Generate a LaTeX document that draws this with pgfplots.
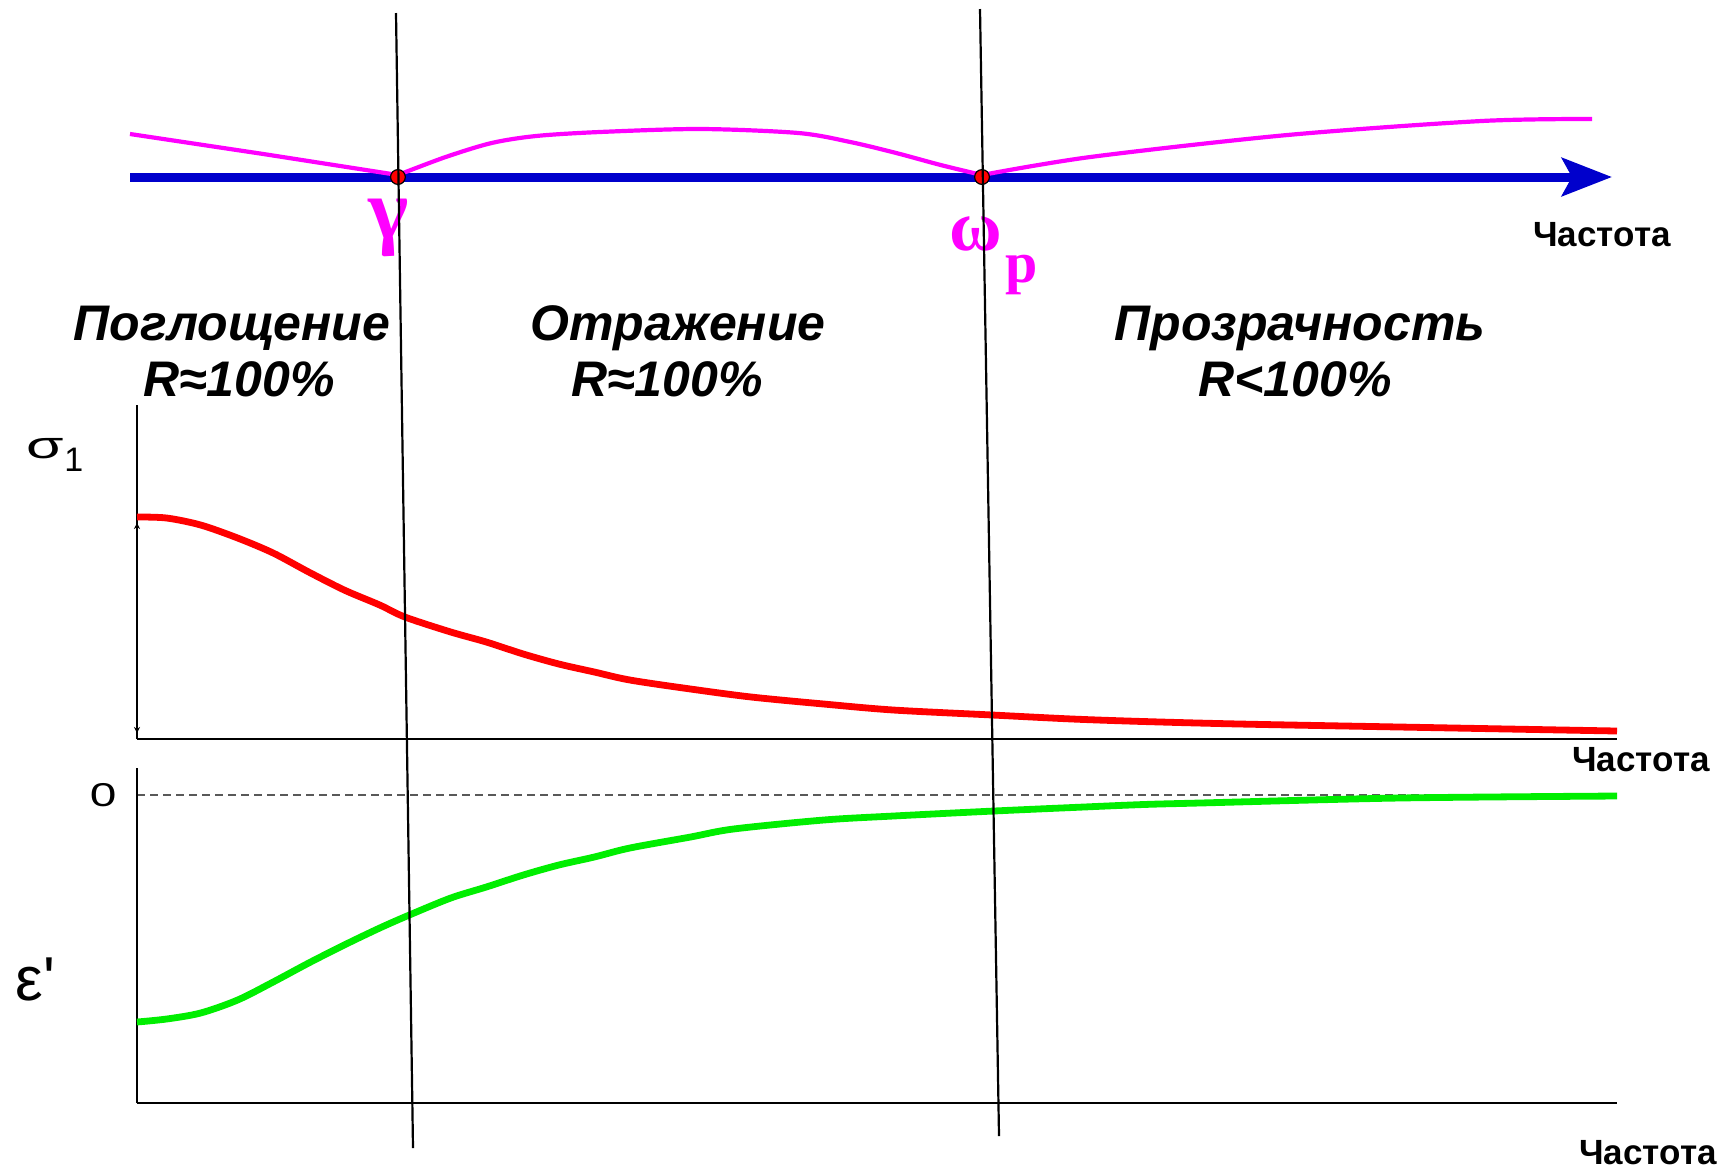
\documentclass[border=0pt]{standalone}
\usepackage{fontspec}
\usepackage{graphicx}
\usepackage{pgfplots}
\pgfplotsset{compat=1.18}
\usetikzlibrary{arrows.meta}
\setmainfont{Liberation Sans}
\newfontfamily\greekserif{Liberation Serif}
% plain family without TeX ligature mapping, so ' stays a straight quote
\newfontfamily\rawsans{Liberation Sans}

\definecolor{axisblue}{RGB}{0,0,204}
\definecolor{curvemagenta}{RGB}{255,0,255}
\definecolor{sigmared}{RGB}{255,0,0}
\definecolor{epsgreen}{RGB}{0,238,0}
\newcommand{\fs}[1]{\fontsize{#1}{#1}\selectfont}

\begin{document}
\begin{tikzpicture}

% ---------- frequency axis with the characteristic points ----------
\begin{axis}[
  at={(65pt,-88.5pt)}, anchor=south west,
  scale only axis, width=741pt, height=30pt,
  xmin=0, xmax=10, ymin=0, ymax=60,
  axis x line=bottom, axis y line=none,
  axis line style={axisblue, line width=4.5pt,
    -{Stealth[length=25pt,width=19pt,inset=5pt]}},
  xtick=\empty, ytick=\empty, clip=false,
  xlabel={Частота},
  xlabel style={at={(axis description cs:1,0)}, anchor=north east,
    inner sep=0pt, xshift=29.5pt, yshift=-22.5pt, font=\bfseries\fs{17.5}},
]
\addplot[curvemagenta, line width=2.1pt, sharp plot]
  coordinates {(0,43) (0.9,23) (1.808,2)};
\addplot[curvemagenta, line width=2.1pt, smooth]
  coordinates {(1.808,2) (2.13,20) (2.44,34) (2.74,41) (3.17,45) (3.85,48)
               (4.51,44) (4.86,35) (5.17,24) (5.47,12) (5.749,2)};
\addplot[curvemagenta, line width=2.1pt, smooth]
  coordinates {(5.749,2) (6.48,20) (7.81,42) (9.12,56) (9.865,58)};
\addplot[only marks, mark=*, mark size=3.7pt,
  mark options={fill=sigmared, draw=black, line width=0.6pt}]
  coordinates {(1.808,0) (5.749,0)};
\end{axis}

% ---------- conductivity sigma_1 ----------
\begin{axis}[
  at={(68.5pt,-369.5pt)}, anchor=south west,
  scale only axis, width=740pt, height=167pt,
  xmin=0, xmax=10, ymin=0, ymax=334,
  axis lines=left, axis line style={-, line width=1pt, black},
  xtick=\empty, ytick=\empty, clip=false,
  xlabel={Частота},
  xlabel style={at={(axis description cs:1,0)}, anchor=north east,
    inner sep=0pt, xshift=46.5pt, yshift=-4pt, font=\bfseries\fs{17.5}},
]
\addplot[sigmared, line width=3.4pt, smooth] coordinates {
  (0,222) (0.20,221) (0.43,214) (0.68,201) (0.92,186) (1.16,167) (1.40,149)
  (1.64,134) (1.81,122) (2.12,107) (2.36,97) (2.61,85) (2.85,75) (3.09,67)
  (3.33,59) (3.74,50) (4.15,42) (4.64,35) (5.11,29) (5.78,24) (6.32,20)
  (6.80,17.5) (7.45,15) (8.53,12) (10,8)};
\draw[{Stealth[length=3pt,width=3pt]}-{Stealth[length=3pt,width=3pt]}, line width=0.8pt]
  (axis cs:0,216) -- (axis cs:0,6);
\end{axis}

% ---------- real part of the permittivity ----------
\begin{axis}[
  at={(68.5pt,-551.5pt)}, anchor=south west,
  scale only axis, width=740pt, height=167.5pt,
  xmin=0, xmax=10, ymin=-308, ymax=27,
  axis lines=left, axis line style={-, line width=1pt, black},
  xtick=\empty, ytick={0}, yticklabels={\scalebox{1.45}[1]{0}},
  major tick length=0pt,
  yticklabel style={font=\fs{16.5}, inner sep=0pt, anchor=east, xshift=-10pt},
  ymajorgrids,
  grid style={dash pattern=on 4pt off 2.5pt, black!65, line width=0.7pt},
  clip=false,
  xlabel={Частота},
  xlabel style={at={(axis description cs:1,0)}, anchor=north east,
    inner sep=0pt, xshift=50pt, yshift=-18.5pt, font=\bfseries\fs{17.5}},
]
\addplot[epsgreen, line width=3.4pt, smooth] coordinates {
  (0,-227) (0.20,-224) (0.43,-218) (0.68,-205) (0.92,-187) (1.16,-168)
  (1.40,-150) (1.64,-133) (1.84,-120) (2.12,-103) (2.36,-92) (2.61,-80)
  (2.85,-70) (3.09,-62) (3.33,-53) (3.74,-42) (4.03,-34) (4.64,-25)
  (5.11,-21) (5.79,-16) (6.32,-12.5) (6.80,-9.5) (7.18,-8) (8.53,-3) (10,-1)};
\end{axis}

% ---------- annotations (coordinates in pixels of a 1722 x 1169 canvas) ----------
\begin{scope}[x=0.5pt, y=-0.5pt]
  % characteristic frequencies
  \node[anchor=base, inner sep=0pt, text=curvemagenta,
        font=\greekserif\bfseries\fs{43}] at (389,238) {γ};
  \node[anchor=base, inner sep=0pt, text=curvemagenta,
        font=\greekserif\bfseries\fs{36}] at (976,250) {ω};
  \node[anchor=base west, inner sep=0pt, text=curvemagenta,
        font=\greekserif\bfseries\fs{29}] at (1005,282) {p};

  % regions
  \begin{scope}[every node/.style={anchor=base, inner sep=0pt,
                font=\bfseries\itshape\fs{25}}]
    \node at (232,340) {Поглощение};
    \node at (239,396) {R≈100\%};
    \node at (678,340) {Отражение};
    \node at (667,396) {R≈100\%};
    \node at (1300,340) {Прозрачность};
    \node at (1295,396) {R<100\%};
  \end{scope}

  % axis names
  \node[anchor=base west, inner sep=0pt, font=\fs{19}] at (26,458) {\scalebox{1.6}[1]{σ}};
  \node[anchor=base west, inner sep=0pt, font=\fs{17}] at (64,471) {1};
  \node[anchor=base west, inner sep=0pt, font=\rawsans\fs{31}] at (15,1000) {ε'};

  % boundaries gamma and omega_p
  \draw[line width=1.1pt] (396,13) -- (413,1148);
  \draw[line width=1.1pt] (980,9) -- (999,1136);

  \pgfresetboundingbox
  \path[use as bounding box] (0,0) rectangle (1722,1169);
\end{scope}

\end{tikzpicture}
\end{document}
